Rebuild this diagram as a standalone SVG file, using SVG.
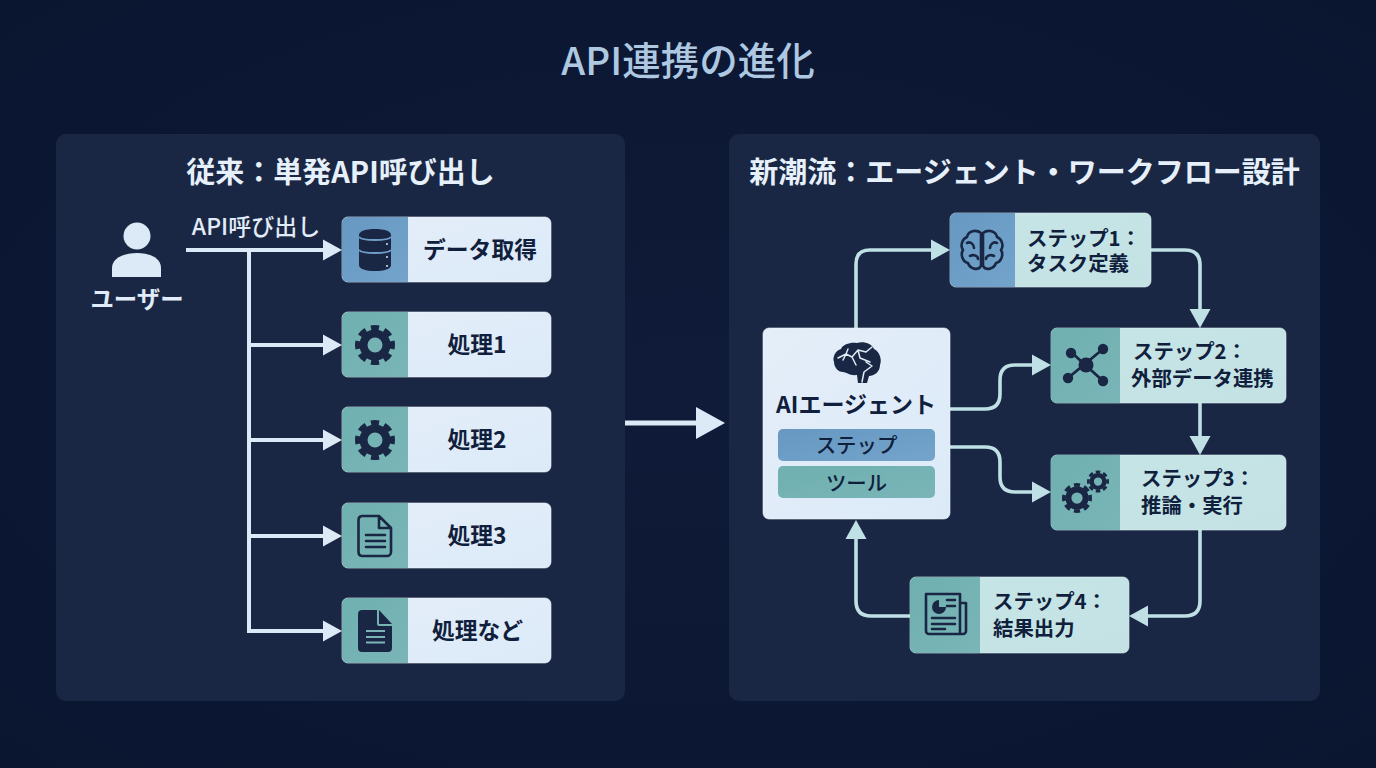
<svg xmlns="http://www.w3.org/2000/svg" width="1376" height="768" viewBox="0 0 1376 768">
<style>
text{font-family:"Noto Sans CJK JP","Noto Sans",sans-serif;text-anchor:middle}
.t{fill:#aec8e2;font-size:38.5px;font-weight:500}
.h{fill:#e6f0fa;font-size:29px;font-weight:700}
.l{fill:#10203c;font-size:22.8px;font-weight:700}
.s{fill:#10203c;font-size:20.4px;font-weight:700;text-anchor:start}
.u{fill:#e0ecf8;font-size:23.4px;font-weight:700}
.a{fill:#e0ecf8;font-size:23px;font-weight:500}
.panel{fill:#1a2744}
.lt{fill:url(#gl);stroke:#f0f6fc;stroke-width:.6}
.st{fill:url(#gs);stroke:#dcf0f0;stroke-width:.6}
.ib{fill:url(#gb)}
.it{fill:url(#gt)}
.c1{fill:none;stroke:#dce9f6;stroke-width:4;marker-end:url(#m1)}
.c0{fill:none;stroke:#dce9f6;stroke-width:4}
.c2{fill:none;stroke:#bfe0e4;stroke-width:3.6;marker-end:url(#m2)}
.d{fill:#1a2744}
.o{fill:none;stroke:#1a2744;stroke-width:2.6;stroke-linecap:round;stroke-linejoin:round}
</style>
<defs>
<radialGradient id="bg" cx="50%" cy="50%" r="75%"><stop offset="0" stop-color="#0f1b38"/><stop offset="1" stop-color="#0a1530"/></radialGradient>
<linearGradient id="gl" x1="0" y1="0" x2="1" y2="1"><stop offset="0" stop-color="#e4eef9"/><stop offset="1" stop-color="#dceaf8"/></linearGradient>
<linearGradient id="gs" x1="0" y1="0" x2="1" y2="1"><stop offset="0" stop-color="#c6e5e6"/><stop offset="1" stop-color="#c4e2e4"/></linearGradient>
<linearGradient id="gb" x1="0" y1="0" x2="1" y2="1"><stop offset="0" stop-color="#6698c2"/><stop offset="1" stop-color="#74a4cb"/></linearGradient>
<linearGradient id="gt" x1="0" y1="0" x2="1" y2="1"><stop offset="0" stop-color="#6fb0b0"/><stop offset="1" stop-color="#7ab5b8"/></linearGradient>
<marker id="m1" markerUnits="userSpaceOnUse" markerWidth="20" markerHeight="22" refX="0" refY="11" orient="auto"><path d="M0 .5L19 11L0 21.5Z" fill="#dce9f6"/></marker>
<marker id="m2" markerUnits="userSpaceOnUse" markerWidth="20" markerHeight="22" refX="0" refY="11" orient="auto"><path d="M0 .5L19 11L0 21.5Z" fill="#bfe0e4"/></marker>
<marker id="m3" markerUnits="userSpaceOnUse" markerWidth="30" markerHeight="34" refX="0" refY="17" orient="auto"><path d="M0 1L29 17L0 33Z" fill="#dce9f6"/></marker>
<g id="gear">
<circle r="11.5" fill="none" stroke="#1a2744" stroke-width="8"/>
<circle r="17.5" fill="none" stroke="#1a2744" stroke-width="5" pathLength="80" stroke-dasharray="6 4" stroke-dashoffset="3"/>
</g>
</defs>
<rect id="background" width="1376" height="768" fill="url(#bg)"/>
<text id="title" class="t" x="688" y="74.500">API連携の進化</text>
<g id="panel-left"><rect class="panel" x="56" y="134" width="569" height="567" rx="10"/><text class="h" x="340.500" y="183">従来：単発API呼び出し</text></g>
<g id="panel-right"><rect class="panel" x="729" y="134" width="591" height="567" rx="10"/><text class="h" x="1024.500" y="183">新潮流：エージェント・ワークフロー設計</text></g>

<g id="connectors">
<path class="c1" d="M186 250H323"/>
<path class="c0" d="M249 250V631"/>
<path class="c1" d="M249 345H323"/>
<path class="c1" d="M249 440H323"/>
<path class="c1" d="M249 536H323"/>
<path class="c1" d="M247 631H323"/>
<path d="M625 423H696" fill="none" stroke="#dce9f6" stroke-width="5" marker-end="url(#m3)"/>
<path class="c2" d="M856 328V264Q856 250 870 250H931"/>
<path class="c2" d="M950 409H985Q1000 409 1000 394V380Q1000 365 1015 365H1032"/>
<path class="c2" d="M950 447H985Q1000 447 1000 462V477Q1000 492 1015 492H1032"/>
<path class="c2" d="M1151 250H1185Q1200 250 1200 265V309"/>
<path class="c2" d="M1200 403V436"/>
<path class="c2" d="M1200 530V601Q1200 616 1185 616H1148"/>
<path class="c2" d="M910 616H871Q856 616 856 601V539"/>
</g>

<g id="node-user">
<circle cx="137" cy="236" r="13.500" fill="#dce9f6"/>
<path d="M112 277V268C112 258 124 253 137 253S161 258 161 268V277Z" fill="#dce9f6"/>
<text class="u" x="137" y="308">ユーザー</text>
</g>
<text id="label-api" class="a" x="256" y="235">API呼び出し</text>

<g id="node-data">
<rect class="lt" x="342" y="217" width="209" height="65" rx="6"/>
<path class="ib" d="M348 217H408V282H348A6 6 0 0 1 342 276V223A6 6 0 0 1 348 217Z"/>
<path class="d" d="M359 235C359 231 366 229 375 229S391 231 391 235V265C391 269 384 271 375 271S359 269 359 265Z"/>
<path d="M359 237C362 241 388 241 391 237M359 250C362 254 388 254 391 250" fill="none" stroke="#6f9fc8" stroke-width="1.800"/>
<circle cx="387" cy="244" r="1.100" fill="#c0d6ea"/><circle cx="387" cy="257" r="1.100" fill="#c0d6ea"/><circle cx="387" cy="266" r="1.100" fill="#c0d6ea"/>
<text class="l" x="480" y="258">データ取得</text>
</g>
<g id="node-p1">
<rect class="lt" x="342" y="312" width="209" height="65" rx="6"/>
<path class="it" d="M348 312H408V377H348A6 6 0 0 1 342 371V318A6 6 0 0 1 348 312Z"/>
<use href="#gear" transform="translate(375 345)"/>
<text class="l" x="477" y="353">処理1</text>
</g>
<g id="node-p2">
<rect class="lt" x="342" y="407" width="209" height="65" rx="6"/>
<path class="it" d="M348 407H408V472H348A6 6 0 0 1 342 466V413A6 6 0 0 1 348 407Z"/>
<use href="#gear" transform="translate(375 440)"/>
<text class="l" x="477" y="448">処理2</text>
</g>
<g id="node-p3">
<rect class="lt" x="342" y="503" width="209" height="65" rx="6"/>
<path class="it" d="M348 503H408V568H348A6 6 0 0 1 342 562V509A6 6 0 0 1 348 503Z"/>
<path class="o" d="M362 516H379L391 528V552A4 4 0 0 1 387 556H362A4 4 0 0 1 358.500 552V520A4 4 0 0 1 362 516ZM379 516V528H391M366 535H385M366 541H385M366 547H385"/>
<text class="l" x="477" y="544">処理3</text>
</g>
<g id="node-p4">
<rect class="lt" x="342" y="598" width="209" height="65" rx="6"/>
<path class="it" d="M348 598H408V663H348A6 6 0 0 1 342 657V604A6 6 0 0 1 348 598Z"/>
<path class="d" d="M362 610H377V624A2 2 0 0 0 379 626H392V648A4 4 0 0 1 388 652H362A4 4 0 0 1 358 648V614A4 4 0 0 1 362 610Z"/>
<path d="M379 610L392 624H379Z" class="d"/>
<path d="M366 631H385M366 637H385M366 642.500H385" stroke="#7ab5b8" stroke-width="1.800" fill="none"/>
<text class="l" x="477.500" y="639">処理など</text>
</g>

<g id="node-agent">
<rect class="lt" x="763" y="328" width="187" height="191" rx="6"/>
<path class="d" d="M858 383L857 375C850 376 846 372 843 372C838 372 834 367 834 362C832 357 836 350 841 349C843 344 851 342 857 343C864 341 872 344 874 349C880 352 882 360 880 365C880 372 874 376 869 376L867 383Z"/>
<path d="M838 358L846 354L852 357L858 350L866 352L872 347M852 357L856 365M858 350L860 358L870 362M846 354L843 360M862 382L864 372L872 366L866 362M846 354L848 349" fill="none" stroke="#e0ecf8" stroke-width="1.500" stroke-linecap="round" stroke-linejoin="round"/>
<text class="l" x="856" y="413" style="font-size:23px">AIエージェント</text>
<rect class="ib" x="778" y="429" width="157" height="32" rx="5"/>
<text class="l" x="856.500" y="453" style="font-size:20.400px;font-weight:500">ステップ</text>
<rect class="it" x="778" y="466" width="157" height="32" rx="5"/>
<text class="l" x="856.500" y="491" style="font-size:20.400px;font-weight:500">ツール</text>
</g>

<g id="node-step1">
<rect class="st" x="950" y="213" width="201" height="74" rx="6"/>
<path class="ib" d="M956 213H1015V287H956A6 6 0 0 1 950 281V219A6 6 0 0 1 956 213Z"/>
<path class="o" d="M981 233C976 229 968 231 967 237C962 239 960 246 963 250C960 255 963 262 968 263C970 269 978 271 981 266ZM983 233C988 229 996 231 997 237C1002 239 1004 246 1001 250C1004 255 1001 262 996 263C994 269 986 271 983 266ZM981 233V266M983 233V266M967 243C971 241 974 245 974 248M970 256C974 254 978 256 978 259M997 243C993 241 990 245 990 248M994 256C990 254 986 256 986 259"/>
<text class="s"><tspan x="1027" y="245.500">ステップ1：</tspan><tspan x="1027" y="270.500">タスク定義</tspan></text>
</g>
<g id="node-step2">
<rect class="st" x="1051" y="328" width="235" height="75" rx="6"/>
<path class="it" d="M1057 328H1120V403H1057A6 6 0 0 1 1051 397V334A6 6 0 0 1 1057 328Z"/>
<path d="M1071 352L1103 381M1103 349L1068 378" stroke="#1a2744" stroke-width="2.800"/>
<circle class="d" cx="1086" cy="365" r="7.500"/>
<circle class="d" cx="1071" cy="353" r="5.200"/><circle class="d" cx="1103" cy="349" r="5.200"/><circle class="d" cx="1068" cy="378" r="5.200"/><circle class="d" cx="1103" cy="381" r="5.200"/>
<text class="s"><tspan x="1133" y="358.500">ステップ2：</tspan><tspan x="1131" y="385.500">外部データ連携</tspan></text>
</g>
<g id="node-step3">
<rect class="st" x="1051" y="455" width="235" height="75" rx="6"/>
<path class="it" d="M1057 455H1120V530H1057A6 6 0 0 1 1051 524V461A6 6 0 0 1 1057 455Z"/>
<use href="#gear" transform="translate(1077 498) scale(.75)"/>
<use href="#gear" transform="translate(1098 481.500) scale(.55)"/>
<text class="s"><tspan x="1141" y="485.500">ステップ3：</tspan><tspan x="1141" y="512.500">推論・実行</tspan></text>
</g>
<g id="node-step4">
<rect class="st" x="910" y="577" width="219" height="76" rx="6"/>
<path class="it" d="M916 577H980V653H916A6 6 0 0 1 910 647V583A6 6 0 0 1 916 577Z"/>
<path class="o" d="M926 594H960V634H929A3 3 0 0 1 926 631ZM960 603H966V631A3 3 0 0 1 963 634H960M932 618H955M932 624H955M932 629H945M947 600H955M947 606H955"/>
<path class="d" d="M939 600A7 7 0 1 0 946 607H939Z"/>
<text class="s"><tspan x="993" y="608.500">ステップ4：</tspan><tspan x="993" y="635.500">結果出力</tspan></text>
</g>
</svg>
